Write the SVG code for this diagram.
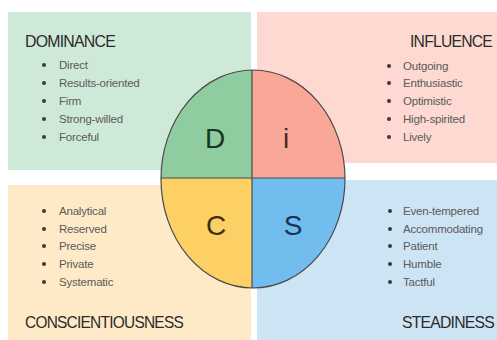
<svg xmlns="http://www.w3.org/2000/svg" width="497" height="340" viewBox="0 0 497 340">
<style>
.title{font-family:"Liberation Sans",Arial,sans-serif;font-size:16.5px;fill:#2b2b2b;letter-spacing:-0.8px}
.item{font-family:"Liberation Sans",Arial,sans-serif;font-size:11.5px;fill:#5a5a5a;letter-spacing:-0.2px}
.letter{font-family:"Liberation Sans",Arial,sans-serif;font-size:28px;text-anchor:middle}
.bul{fill:#3a3a3a}
.line{stroke:#4a4a4a;stroke-width:1.2;fill:none}
</style>
<defs>
<clipPath id="ell"><ellipse cx="253" cy="179" rx="92" ry="109"/></clipPath>
</defs>
<rect width="497" height="340" fill="#ffffff"/>
<g id="dominance">
<rect x="8" y="12" width="243" height="158" fill="#cfe9d8"/>
<text class="title" x="25" y="47" textLength="90" lengthAdjust="spacingAndGlyphs">DOMINANCE</text>
<g class="bul"><circle cx="44" cy="65" r="2"/><circle cx="44" cy="83" r="2"/><circle cx="44" cy="101" r="2"/><circle cx="44" cy="119" r="2"/><circle cx="44" cy="137" r="2"/></g>
<text class="item" x="59" y="69">Direct</text>
<text class="item" x="59" y="87">Results-oriented</text>
<text class="item" x="59" y="105">Firm</text>
<text class="item" x="59" y="123">Strong-willed</text>
<text class="item" x="59" y="141">Forceful</text>
</g>
<g id="influence">
<rect x="257" y="12" width="240" height="151" fill="#fdd9d1"/>
<text class="title" x="492" y="47" text-anchor="end" textLength="82" lengthAdjust="spacingAndGlyphs">INFLUENCE</text>
<g class="bul"><circle cx="389" cy="66" r="2"/><circle cx="389" cy="83" r="2"/><circle cx="389" cy="101" r="2"/><circle cx="389" cy="119" r="2"/><circle cx="389" cy="137" r="2"/></g>
<text class="item" x="403" y="70">Outgoing</text>
<text class="item" x="403" y="87">Enthusiastic</text>
<text class="item" x="403" y="105">Optimistic</text>
<text class="item" x="403" y="123">High-spirited</text>
<text class="item" x="403" y="141">Lively</text>
</g>
<g id="conscientiousness">
<rect x="8" y="185" width="243" height="155" fill="#feeac6"/>
<text class="title" x="25" y="328" textLength="158" lengthAdjust="spacingAndGlyphs">CONSCIENTIOUSNESS</text>
<g class="bul"><circle cx="44" cy="211" r="2"/><circle cx="44" cy="229" r="2"/><circle cx="44" cy="246" r="2"/><circle cx="44" cy="264" r="2"/><circle cx="44" cy="282" r="2"/></g>
<text class="item" x="59" y="215">Analytical</text>
<text class="item" x="59" y="233">Reserved</text>
<text class="item" x="59" y="250">Precise</text>
<text class="item" x="59" y="268">Private</text>
<text class="item" x="59" y="286">Systematic</text>
</g>
<g id="steadiness">
<rect x="257" y="180" width="240" height="160" fill="#cde4f4"/>
<text class="title" x="494" y="328" text-anchor="end" textLength="92" lengthAdjust="spacingAndGlyphs">STEADINESS</text>
<g class="bul"><circle cx="390" cy="211" r="2"/><circle cx="390" cy="229" r="2"/><circle cx="390" cy="246" r="2"/><circle cx="390" cy="264" r="2"/><circle cx="390" cy="282" r="2"/></g>
<text class="item" x="403" y="215">Even-tempered</text>
<text class="item" x="403" y="233">Accommodating</text>
<text class="item" x="403" y="250">Patient</text>
<text class="item" x="403" y="268">Humble</text>
<text class="item" x="403" y="286">Tactful</text>
</g>
<g id="disc-circle">
<g clip-path="url(#ell)">
<rect x="150" y="60" width="102" height="118" fill="#8fcc9f"/>
<rect x="252" y="60" width="100" height="118" fill="#f9a898"/>
<rect x="150" y="178" width="102" height="120" fill="#fdd066"/>
<rect x="252" y="178" width="100" height="120" fill="#70bdee"/>
</g>
<g class="connectors">
<line class="line" x1="161" y1="178" x2="345" y2="178"/>
<line class="line" x1="252" y1="70" x2="252" y2="288"/>
</g>
<ellipse class="line" cx="253" cy="179" rx="92" ry="109"/>
<text class="letter" x="215" y="148" fill="#1a3322">D</text>
<text class="letter" x="286" y="148" fill="#4e2824">i</text>
<text class="letter" x="216" y="235" fill="#3f3110">C</text>
<text class="letter" x="293" y="235" fill="#1a3352">S</text>
</g>
</svg>
